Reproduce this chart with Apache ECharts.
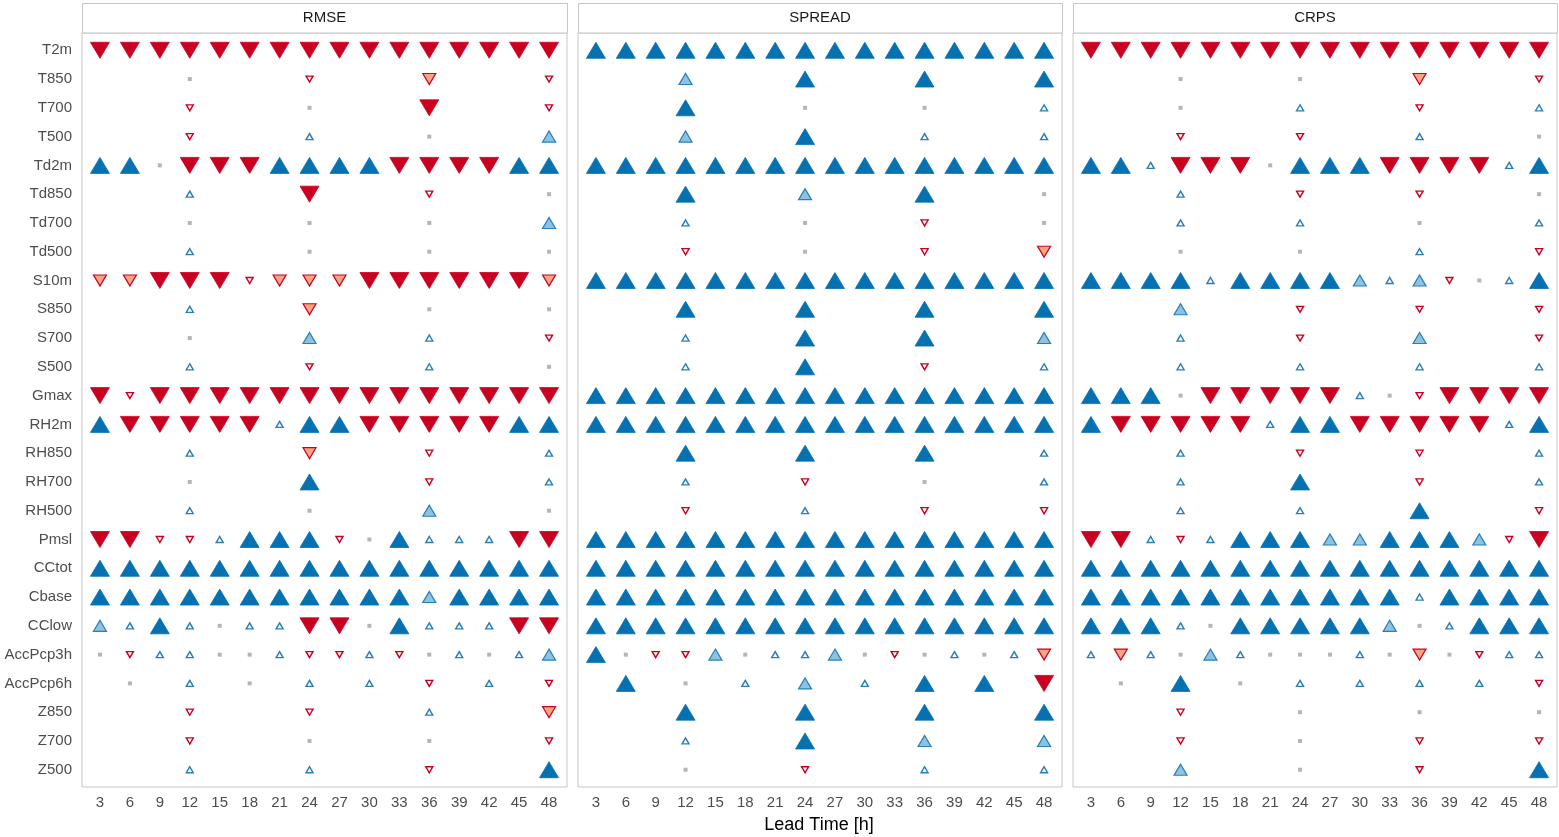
<!DOCTYPE html>
<html>
<head>
<meta charset="utf-8">
<script src="https://cdn.jsdelivr.net/npm/echarts@6/dist/echarts.min.js"></script>
<style>
html,body{margin:0;padding:0;background:#fff;}
#chart{width:1559px;height:837px;}
</style>
</head>
<body>
<div id="chart"></div>
<script>
// ---- data ----
const leadTimes = [3,6,9,12,15,18,21,24,27,30,33,36,39,42,45,48];
const variables = ['T2m','T850','T700','T500','Td2m','Td850','Td700','Td500','S10m','S850','S700','S500','Gmax','RH2m','RH850','RH700','RH500','Pmsl','CCtot','Cbase','CClow','AccPcp3h','AccPcp6h','Z850','Z700','Z500'];
const panelTitles = ['RMSE','SPREAD','CRPS'];
// codes: U=+3 (big up), u=+2, ^=+1, o=0, v=-1, d=-2, D=-3 (big down), .=no value
const rmseRows = [
"DDDDDDDDDDDDDDDD",
"...o...v...d...v",
"...v...o...D...v",
"...v...^...o...u",
"UUoDDDUUUUDDDDUU",
"...^...D...v...o",
"...o...o...o...u",
"...^...o...o...o",
"ddDDDvdddDDDDDDd",
"...^...d...o...o",
"...o...u...^...v",
"...^...v...^...o",
"DvDDDDDDDDDDDDDD",
"UDDDDD^UUDDDDDUU",
"...^...d...v...^",
"...o...U...v...^",
"...^...o...u...o",
"DDvv^UUUvoU^^^DD",
"UUUUUUUUUUUUUUUU",
"UUUUUUUUUUUuUUUU",
"u^U^o^^DDoU^^^DD",
"ov^^oo^vv^vo^o^u",
".o.^.o.^.^.v.^.v",
"...v...v...^...d",
"...v...o...o...v",
"...^...^...v...U"
];
const spreadRows = [
"UUUUUUUUUUUUUUUU",
"...u...U...U...U",
"...U...o...o...^",
"...u...U...^...^",
"UUUUUUUUUUUUUUUU",
"...U...u...U...o",
"...^...o...v...o",
"...v...o...v...d",
"UUUUUUUUUUUUUUUU",
"...U...U...U...U",
"...^...U...U...u",
"...^...U...v...^",
"UUUUUUUUUUUUUUUU",
"UUUUUUUUUUUUUUUU",
"...U...U...U...^",
"...^...v...o...^",
"...v...^...v...v",
"UUUUUUUUUUUUUUUU",
"UUUUUUUUUUUUUUUU",
"UUUUUUUUUUUUUUUU",
"UUUUUUUUUUUUUUUU",
"Uovvuo^^uovo^o^d",
".U.o.^.u.^.U.U.D",
"...U...U...U...U",
"...^...U...u...u",
"...o...v...^...^"
];
const crpsRows = [
"DDDDDDDDDDDDDDDD",
"...o...o...d...v",
"...o...^...v...^",
"...v...v...^...o",
"UU^DDDoUUUDDDD^U",
"...^...v...v...o",
"...^...^...o...^",
"...o...o...^...v",
"UUUU^UUUUu^uvo^U",
"...u...v...v...v",
"...^...v...u...v",
"...^...^...^...^",
"UUUoDDDDD^ovDDDD",
"UDDDDD^UUDDDDD^U",
"...^...v...v...^",
"...^...U...v...^",
"...^...^...U...v",
"DD^v^UUUuuUUUuvD",
"UUUUUUUUUUUUUUUU",
"UUUUUUUUUUU^UUUU",
"UUU^oUUUUUuo^UUU",
"^d^ou^ooo^odov^^",
".o.U.o.^.^.^.^.v",
"...v...o...o...o",
"...v...o...v...v",
"...u...o...v...U"
];
const codeLevel = {'U':3,'u':2,'^':1,'o':0,'v':-1,'d':-2,'D':-3};

// ---- styles ----
const BLUE='#0571b0', RED='#ca0020';
const levelStyle = {
  '3':  {symbol:'triangle', size:[19,16], rot:0,   fill:BLUE,     stroke:BLUE, bw:0.8},
  '2':  {symbol:'triangle', size:[13,11], rot:0,   fill:'#8cc2e2',stroke:'#2b7fb8', bw:1.2},
  '1':  {symbol:'triangle', size:[7,6],   rot:0,   fill:'#ffffff',stroke:'#2b7fb8', bw:1.4},
  '0':  {symbol:'rect',     size:[4,4],   rot:0,   fill:'#b5b5b5',stroke:'#b5b5b5', bw:0},
  '-1': {symbol:'triangle', size:[7,6],   rot:180, fill:'#ffffff',stroke:RED,  bw:1.4},
  '-2': {symbol:'triangle', size:[13,11], rot:180, fill:'#f4a582',stroke:RED,  bw:1.2},
  '-3': {symbol:'triangle', size:[19,16], rot:180, fill:RED,      stroke:RED,  bw:0.8}
};

const panelRows = [rmseRows, spreadRows, crpsRows];
const gridLefts = [82, 578, 1073];
const gridWidths = [485, 484, 484];
const TOP = 33, HEIGHT = 754;
const FONT = '"Liberation Sans", Arial, Helvetica, sans-serif';

const grids = [], xAxes = [], yAxes = [], series = [], graphics = [];
const idx16 = leadTimes.map((_, i) => i);
const idx26 = variables.map((_, i) => i);

panelRows.forEach((rows, p) => {
  grids.push({left: gridLefts[p], top: TOP, width: gridWidths[p], height: HEIGHT,
    show: true, borderColor: '#c6c6c6', borderWidth: 1, backgroundColor: 'transparent', containLabel: false});
  xAxes.push({type: 'value', gridIndex: p, min: -0.6, max: 15.6,
    axisLine: {show: false}, splitLine: {show: false},
    axisTick: {show: true, length: 4, customValues: idx16, lineStyle: {color: '#b3b3b3', width: 1}},
    axisLabel: {show: true, customValues: idx16, margin: 8, color: '#4d4d4d', fontSize: 15, fontFamily: FONT,
      formatter: v => String(leadTimes[Math.round(v)])}});
  yAxes.push({type: 'value', gridIndex: p, min: -0.6, max: 25.6, inverse: true,
    axisLine: {show: false}, splitLine: {show: false}, axisTick: {show: false},
    axisLabel: {show: p === 0, customValues: idx26, margin: 10, color: '#4d4d4d', fontSize: 15, fontFamily: FONT,
      formatter: v => variables[Math.round(v)]}});

  const buckets = {};
  rows.forEach((row, r) => {
    for (let c = 0; c < row.length; c++) {
      const ch = row[c];
      if (!(ch in codeLevel)) continue;
      const lv = String(codeLevel[ch]);
      (buckets[lv] = buckets[lv] || []).push([c, r]);
    }
  });
  ['0','-1','1','-2','2','-3','3'].forEach(lv => {
    if (!buckets[lv]) return;
    const s = levelStyle[lv];
    series.push({type: 'scatter', xAxisIndex: p, yAxisIndex: p, data: buckets[lv],
      symbol: s.symbol, symbolSize: s.size, symbolRotate: s.rot, silent: true, animation: false,
      itemStyle: {color: s.fill, borderColor: s.stroke, borderWidth: s.bw, opacity: 1}});
  });

  graphics.push({type: 'rect', shape: {x: gridLefts[p] + 0.5, y: 3.5, width: gridWidths[p], height: 29.5},
    style: {fill: '#ffffff', stroke: '#c6c6c6', lineWidth: 1}, silent: true});
  graphics.push({type: 'text', x: gridLefts[p] + gridWidths[p] / 2, y: 18,
    style: {text: panelTitles[p], fill: '#1a1a1a', font: '15px ' + FONT, textAlign: 'center', textVerticalAlign: 'middle'}, silent: true});
});

graphics.push({type: 'text', x: 819, y: 825,
  style: {text: 'Lead Time [h]', fill: '#000000', font: '18px ' + FONT, textAlign: 'center', textVerticalAlign: 'middle'}, silent: true});

const chart = echarts.init(document.getElementById('chart'), null, {renderer: 'canvas'});
chart.setOption({
  animation: false,
  backgroundColor: '#ffffff',
  grid: grids, xAxis: xAxes, yAxis: yAxes, series: series, graphic: graphics
});
</script>
</body>
</html>
